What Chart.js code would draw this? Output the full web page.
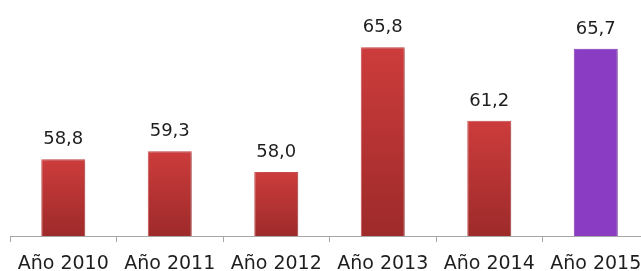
<!DOCTYPE html>
<html>
<head>
<meta charset="utf-8">
<script src="https://cdn.jsdelivr.net/npm/chart.js@4/dist/chart.umd.min.js"></script>
<style>
html, body { margin: 0; padding: 0; background: #ffffff; overflow: hidden; }
#wrap { width: 649px; height: 271px; }
</style>
</head>
<body>
<div id="wrap"><canvas id="c" width="649" height="271"></canvas></div>
<script>
const categories = ["Año 2010", "Año 2011", "Año 2012", "Año 2013", "Año 2014", "Año 2015"];
const values = [58.8, 59.3, 58.0, 65.8, 61.2, 65.7];
const highlightIndex = 5;

const FONT = "'DejaVu Sans', sans-serif";

function barFill(ctx) {
  const chart = ctx.chart;
  if (ctx.type !== 'data') return '#c53535';
  if (ctx.dataIndex === highlightIndex) return '#8a3cc3';
  const area = chart.chartArea;
  if (!area) return '#c53535';
  const ys = chart.scales.y;
  const top = ys.getPixelForValue(ctx.raw);
  const bottom = ys.getPixelForValue(ys.min);
  const g = chart.ctx.createLinearGradient(0, top, 0, bottom);
  g.addColorStop(0, '#cd3c3c');
  g.addColorStop(1, '#9e2a2a');
  return g;
}

const shadowPlugin = {
  id: 'barShadow',
  beforeDatasetDraw(chart) {
    const c = chart.ctx;
    c.save();
    c.shadowColor = 'rgba(0,0,0,0.25)';
    c.shadowBlur = 5;
    c.shadowOffsetX = 2;
    c.shadowOffsetY = 1;
  },
  afterDatasetDraw(chart) {
    chart.ctx.restore();
  }
};

const valueLabels = {
  id: 'valueLabels',
  afterDatasetsDraw(chart) {
    const c = chart.ctx;
    const meta = chart.getDatasetMeta(0);
    c.save();
    c.font = "18px " + FONT;
    c.fillStyle = '#1e1e1e';
    c.textAlign = 'center';
    c.textBaseline = 'alphabetic';
    meta.data.forEach((el, i) => {
      const txt = values[i].toFixed(1).replace('.', ',');
      c.fillText(txt, el.x, el.y - 15);
    });
    c.restore();
  }
};

new Chart(document.getElementById('c'), {
  type: 'bar',
  data: {
    labels: categories,
    datasets: [{
      data: values,
      backgroundColor: barFill,
      borderColor: (ctx) => ctx.dataIndex === highlightIndex ? '#8a3cc3' : '#d35454',
      borderWidth: 1,
      borderSkipped: 'bottom',
      barPercentage: 0.413,
      categoryPercentage: 1.0
    }]
  },
  options: {
    responsive: false,
    devicePixelRatio: 1,
    animation: false,
    layout: { padding: { left: 10, right: 0, top: 0, bottom: 0 } },
    plugins: { legend: { display: false }, tooltip: { enabled: false } },
    scales: {
      y: { display: false, min: 54, max: 68.75 },
      x: {
        offset: true,
        afterFit: (s) => { s.height = 35; },
        grid: { offset: true, drawOnChartArea: false, drawTicks: true, tickLength: 6, color: '#a6a6a6', lineWidth: 1 },
        border: { display: true, color: '#a6a6a6', width: 1 },
        ticks: { color: '#1e1e1e', font: { family: FONT, size: 19, lineHeight: 1.72 }, padding: 6, maxRotation: 0, autoSkip: false }
      }
    }
  },
  plugins: [shadowPlugin, valueLabels]
});
</script>
</body>
</html>
